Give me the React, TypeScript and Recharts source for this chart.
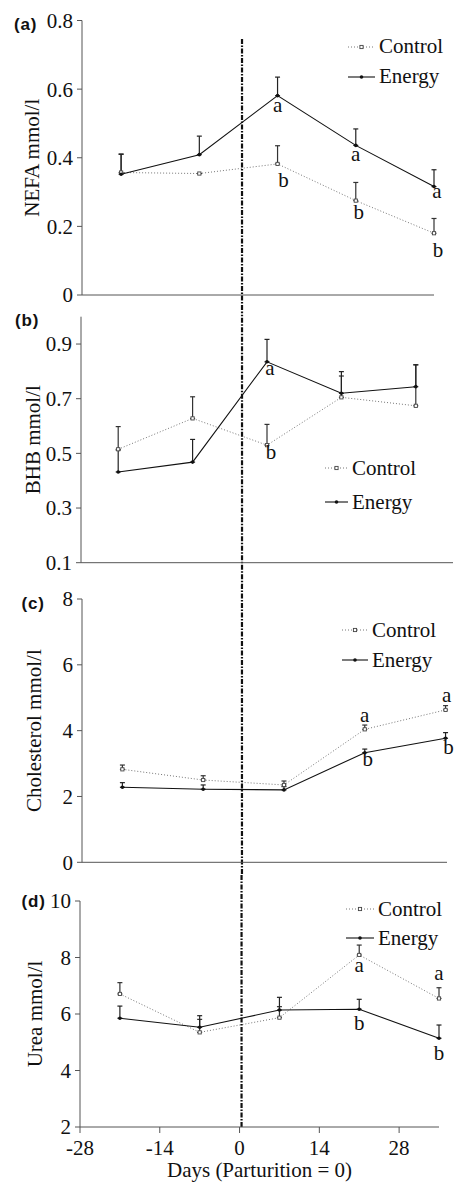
import React from 'react';
import { LineChart, Line, XAxis, YAxis, ErrorBar, ReferenceLine, Legend } from 'recharts';

// sampling days relative to parturition
const days = [-21, -7, 7, 21, 35];
const dayTicks = [-28, -14, 0, 14, 28];

// (a) NEFA
const nefaControl = [0.357, 0.354, 0.382, 0.275, 0.18];
const nefaControlSe = [0.054, 0, 0.053, 0.053, 0.043];
const nefaEnergy = [0.352, 0.409, 0.581, 0.436, 0.316];
const nefaEnergySe = [0.058, 0.054, 0.054, 0.048, 0.049];
const nefaControlSig = ['', '', 'b', 'b', 'b'];
const nefaEnergySig = ['', '', 'a', 'a', 'a'];
const nefaTicks = [0, 0.2, 0.4, 0.6, 0.8];

// (b) BHB
const bhbControl = [0.515, 0.628, 0.53, 0.705, 0.674];
const bhbControlSe = [0.083, 0.079, 0.076, 0.078, 0.15];
const bhbEnergy = [0.432, 0.468, 0.835, 0.72, 0.744];
const bhbEnergySe = [0.08, 0.083, 0.082, 0.079, 0.08];
const bhbControlSig = ['', '', 'b', '', ''];
const bhbEnergySig = ['', '', 'a', '', ''];
const bhbTicks = [0.1, 0.3, 0.5, 0.7, 0.9];

// (c) Cholesterol
const cholControl = [2.825, 2.5, 2.35, 4.04, 4.63];
const cholControlSe = [0.13, 0.13, 0.12, 0.13, 0.13];
const cholEnergy = [2.28, 2.22, 2.2, 3.33, 3.77];
const cholEnergySe = [0.14, 0.13, 0.1, 0.11, 0.17];
const cholControlSig = ['', '', '', 'a', 'a'];
const cholEnergySig = ['', '', '', 'b', 'b'];
const cholTicks = [0, 2, 4, 6, 8];

// (d) Urea
const ureaControl = [6.71, 5.35, 5.87, 8.09, 6.55];
const ureaControlSe = [0.4, 0.46, 0.39, 0.35, 0.38];
const ureaEnergy = [5.85, 5.53, 6.14, 6.17, 5.14];
const ureaEnergySe = [0.43, 0.41, 0.45, 0.35, 0.47];
const ureaControlSig = ['', '', '', 'a', 'a'];
const ureaEnergySig = ['', '', '', 'b', 'b'];
const ureaTicks = [2, 4, 6, 8, 10];

// where the parturition line sits on each panel's own day scale
const dividerDays = [0.64, 2.3, -0.28, 0.35];

const SERIF = '"Liberation Serif", "Times New Roman", serif';
const SANS = '"Liberation Sans", Arial, sans-serif';
const INK = '#111';
const AXIS = '#555';

const panels = [
  {
    letter: '(a)', title: 'NEFA mmol/l',
    control: nefaControl, controlSe: nefaControlSe, energy: nefaEnergy, energySe: nefaEnergySe,
    controlSig: nefaControlSig, energySig: nefaEnergySig,
    yDomain: [0, 0.8], yTicks: nefaTicks, xDomain: [-28, 35], divider: dividerDays[0], dividerSpan: [0.746, -5],
    height: 312, mTop: 20.5, mBottom: 16, axisX: 82, plotRight: 434,
    titleX: 39, letterX: 14, letterDy: 9.5,
    legend: { left: 348, top: 31.7, rowH: 30, sampleW: 27 },
    controlOff: [[0, 0], [0, 0], [6, 23], [3, 18.7], [4, 24]],
    energyOff: [[0, 0], [0, 0], [0, 16.7], [0, 15.7], [3, 11.7]],
  },
  {
    letter: '(b)', title: 'BHB mmol/l',
    control: bhbControl, controlSe: bhbControlSe, energy: bhbEnergy, energySe: bhbEnergySe,
    controlSig: bhbControlSig, energySig: bhbEnergySig,
    yDomain: [0.1, 1.0], yTicks: bhbTicks, xDomain: [-28, 42], divider: dividerDays[1], dividerSpan: [-5, 5],
    height: 273, mTop: 4.7, mBottom: 21.3, axisX: 81, plotRight: 453,
    titleX: 40, letterX: 15, letterDy: 9,
    legend: { left: 325, top: 139, rowH: 34, sampleW: 23 },
    controlOff: [[0, 0], [0, 0], [4, 13.7], [0, 0], [0, 0]],
    energyOff: [[0, 0], [0, 0], [3, 12.7], [0, 0], [0, 0]],
  },
  {
    letter: '(c)', title: 'Cholesterol mmol/l',
    control: cholControl, controlSe: cholControlSe, energy: cholEnergy, energySe: cholEnergySe,
    controlSig: cholControlSig, energySig: cholEnergySig,
    yDomain: [0, 8], yTicks: cholTicks, xDomain: [-28, 35.25], divider: dividerDays[2], dividerSpan: [-50, 50],
    height: 290, mTop: 14, mBottom: 11.7, axisX: 82, plotRight: 447,
    titleX: 41, letterX: 21.5, letterDy: 10,
    legend: { left: 342, top: 30, rowH: 30, sampleW: 26 },
    controlOff: [[0, 0], [0, 0], [0, 0], [0, -7.7], [1, -8]],
    energyOff: [[0, 0], [0, 0], [0, 0], [3, 13], [3, 16]],
  },
  {
    letter: '(d)', title: 'Urea mmol/l',
    control: ureaControl, controlSe: ureaControlSe, energy: ureaEnergy, energySe: ureaEnergySe,
    controlSig: ureaControlSig, energySig: ureaEnergySig,
    yDomain: [2, 10], yTicks: ureaTicks, xDomain: [-28, 35], divider: dividerDays[3], dividerSpan: [2, 50],
    height: 308, mTop: 26, mBottom: 0, axisX: 80, plotRight: 439,
    titleX: 41.5, letterX: 21.5, letterDy: 6,
    legend: { left: 346, top: 19.5, rowH: 29, sampleW: 28 },
    controlOff: [[0, 0], [0, 0], [0, 0], [0, 16.7], [0, -18]],
    energyOff: [[0, 0], [0, 0], [0, 0], [0, 21], [0, 22]],
    xAxis: true,
  },
];

const makeDot = (kind: string, sigs: string[], offs: number[][]) => (p: any) => {
  const { cx, cy, index } = p;
  if (cx == null || cy == null) return <g key={`${kind}-x${index}`} />;
  const s = sigs[index];
  const o = offs[index] || [0, 0];
  return (
    <g key={`${kind}-${index}`}>
      {kind === 'control' ? (
        <rect x={cx - 1.6} y={cy - 1.6} width={3.2} height={3.2} fill="#fff" stroke="#444" strokeWidth={0.9} />
      ) : (
        <circle cx={cx} cy={cy} r={1.8} fill={INK} />
      )}
      {s ? (
        <text x={cx + o[0]} y={cy + o[1]} textAnchor="middle" fontFamily={SERIF} fontSize={21} fill={INK}>
          {s}
        </text>
      ) : null}
    </g>
  );
};

const YTitle = (props: any) => {
  const vb = props.viewBox || { x: 0, y: 0, width: 0, height: 0 };
  const cy = vb.y + vb.height / 2;
  return (
    <g>
      <text
        transform={`translate(${props.titleX},${cy}) rotate(-90)`}
        textAnchor="middle"
        fontFamily={SERIF}
        fontSize={21}
        fill={INK}
      >
        {props.title}
      </text>
      <text x={props.letterX} y={vb.y + props.letterDy} fontFamily={SANS} fontWeight="bold" fontSize={17} letterSpacing={0.8} fill={INK}>
        {props.letter}
      </text>
    </g>
  );
};

const XTitle = (props: any) => {
  const vb = props.viewBox || { x: 0, y: 0, width: 0, height: 0 };
  return (
    <text x={vb.x + vb.width / 2} y={vb.y + 50} textAnchor="middle" fontFamily={SERIF} fontSize={21} fill={INK}>
      Days (Parturition = 0)
    </text>
  );
};

const renderLegend = (rowH: number, sampleW: number) => (props: any) => (
  <div style={{ fontFamily: SERIF, fontSize: 21, color: INK }}>
    {(props.payload || []).map((e: any) => (
      <div key={e.value} style={{ display: 'flex', alignItems: 'center', height: rowH, whiteSpace: 'nowrap' }}>
        <svg width={sampleW} height={10} style={{ marginRight: 4 }}>
          {e.dataKey === 'control' ? (
            <>
              <line x1={0} y1={5} x2={sampleW} y2={5} stroke="#777" strokeWidth={1} strokeDasharray="1 2" />
              <rect x={sampleW / 2 - 1.6} y={3.4} width={3.2} height={3.2} fill="#fff" stroke="#444" strokeWidth={0.9} />
            </>
          ) : (
            <>
              <line x1={0} y1={5} x2={sampleW} y2={5} stroke={INK} strokeWidth={1.1} />
              <circle cx={sampleW / 2} cy={5} r={1.8} fill={INK} />
            </>
          )}
        </svg>
        <span>{e.value}</span>
      </div>
    ))}
  </div>
);

function Panel({ cfg }: { cfg: any }) {
  const data = days.map((d, i) => ({
    day: d,
    control: cfg.control[i],
    controlErr: [0, cfg.controlSe[i]],
    energy: cfg.energy[i],
    energyErr: [0, cfg.energySe[i]],
  }));
  const tickFont = { fontSize: 21, fontFamily: SERIF, fill: INK };
  return (
    <LineChart
      width={454}
      height={cfg.height}
      data={data}
      margin={{ top: cfg.mTop, right: 454 - cfg.plotRight, bottom: cfg.mBottom, left: 0 }}
    >
      <XAxis
        type="number"
        dataKey="day"
        domain={cfg.xDomain}
        ticks={dayTicks}
        interval={0}
        axisLine={{ stroke: AXIS, strokeWidth: 1 }}
        tick={cfg.xAxis ? tickFont : false}
        tickLine={cfg.xAxis ? { stroke: AXIS } : false}
        tickSize={6}
        tickMargin={7}
        height={cfg.xAxis ? 56 : 1}
        label={cfg.xAxis ? <XTitle /> : undefined}
      />
      <YAxis
        type="number"
        domain={cfg.yDomain}
        ticks={cfg.yTicks}
        interval={0}
        width={cfg.axisX}
        axisLine={{ stroke: AXIS, strokeWidth: 1 }}
        tickLine={{ stroke: AXIS }}
        tickSize={5}
        tickMargin={4}
        tick={tickFont}
        label={<YTitle title={cfg.title} letter={cfg.letter} titleX={cfg.titleX} letterX={cfg.letterX} letterDy={cfg.letterDy} />}
      />
      <Line
        name="Control"
        dataKey="control"
        stroke="#777"
        strokeWidth={1}
        strokeDasharray="1 2"
        dot={makeDot('control', cfg.controlSig, cfg.controlOff)}
        activeDot={false}
        isAnimationActive={false}
      >
        <ErrorBar dataKey="controlErr" direction="y" width={2.5} stroke="#333" strokeWidth={1.2} isAnimationActive={false} />
      </Line>
      <Line
        name="Energy"
        dataKey="energy"
        stroke={INK}
        strokeWidth={1.1}
        dot={makeDot('energy', cfg.energySig, cfg.energyOff)}
        activeDot={false}
        isAnimationActive={false}
      >
        <ErrorBar dataKey="energyErr" direction="y" width={2.5} stroke="#222" strokeWidth={1.2} isAnimationActive={false} />
      </Line>
      <ReferenceLine
        segment={[
          { x: cfg.divider, y: cfg.dividerSpan[0] },
          { x: cfg.divider, y: cfg.dividerSpan[1] },
        ]}
        ifOverflow="visible"
        stroke="#111"
        strokeWidth={2.2}
        strokeDasharray="5 1.5 1.5 1.5"
      />
      <Legend
        layout="horizontal"
        verticalAlign="middle"
        align="center"
        content={renderLegend(cfg.legend.rowH, cfg.legend.sampleW)}
        wrapperStyle={{ left: cfg.legend.left, top: cfg.legend.top, width: 'auto' }}
      />
    </LineChart>
  );
}

export default function App() {
  return (
    <div style={{ position: 'absolute', left: 0, top: 0, width: 454, height: 1183, background: '#fff' }}>
      {panels.map((p) => (
        <Panel key={p.letter} cfg={p} />
      ))}
    </div>
  );
}
